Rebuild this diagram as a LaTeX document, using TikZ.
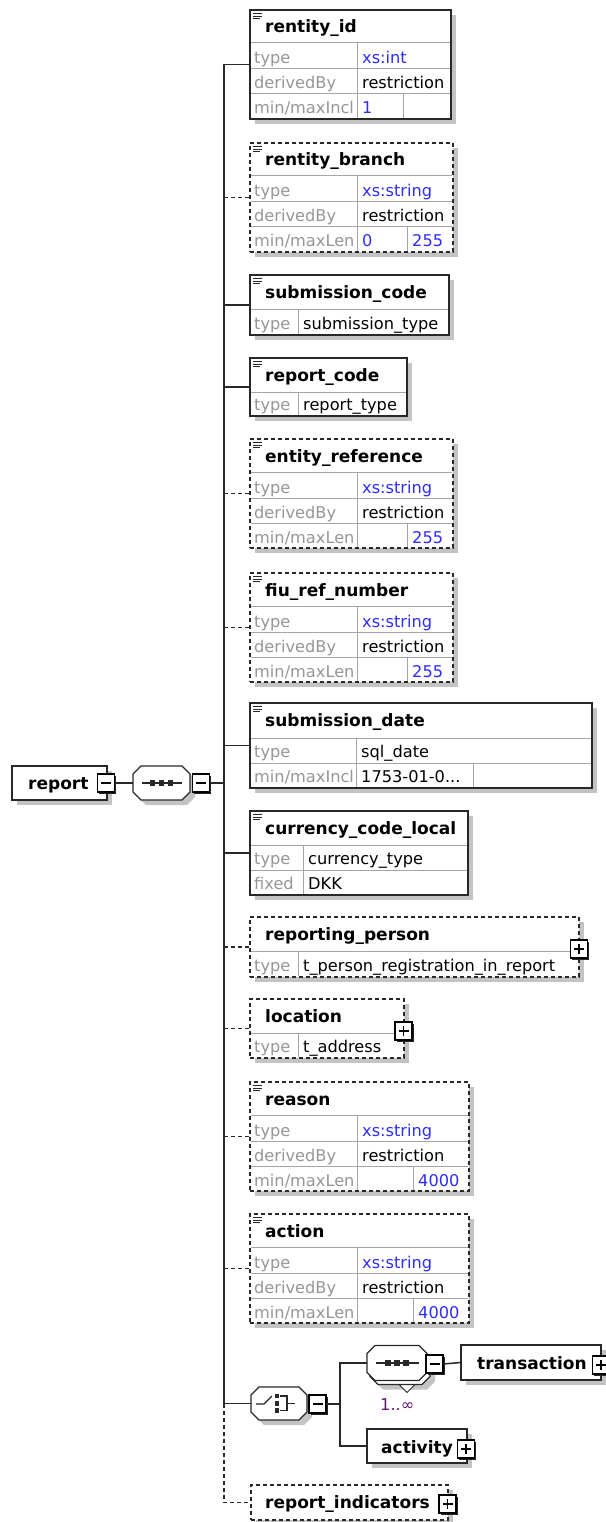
\documentclass[tikz,border=0pt]{standalone}
\usepackage{fontspec}
\setmainfont{DejaVu Sans}
\usepackage{tikz}
\usetikzlibrary{positioning}

\definecolor{border}{RGB}{40,40,40}
\definecolor{shadowgrey}{RGB}{195,195,195}
\definecolor{rowline}{RGB}{165,165,165}
\definecolor{labelgrey}{RGB}{150,150,150}
\definecolor{xsblue}{RGB}{45,45,255}
\definecolor{occpurple}{RGB}{100,25,110}

\begin{document}
\begin{tikzpicture}
  [ x=1pt, y=-1pt,
    optional/.style={dash pattern=on 4pt off 3pt},
    shadowed/.style={preaction={fill=shadowgrey, transform canvas={shift={(5pt,-5pt)}}}},
    plain/.style={},
    conn/.style={draw=border, line width=1.5pt},
    rowsep/.style={draw=rowline, line width=1pt},
    elembox/.style={draw=border, fill=white, line width=1.5pt, anchor=north west,
                    inner sep=0pt, outer sep=0pt, shadowed},
    grpbox/.style={elembox, anchor=center},
    grp/.style={minimum width=57pt, minimum height=34pt, inner sep=0pt, outer sep=0pt},
    pmbox/.style={draw=black, fill=white, line width=1.2pt, minimum width=17pt,
                  minimum height=18pt, inner sep=0pt, outer sep=0pt,
                  preaction={fill=black!85, transform canvas={shift={(1.5pt,-1.5pt)}}}},
    sign/.style={draw=black, line width=1.1pt},
    docicon/.style={draw=border, line width=0.9pt},
    ename/.style={font=\bfseries\fontsize{17}{20}\selectfont, inner sep=0pt, anchor=base west},
    lab/.style={font=\fontsize{16.2}{19}\selectfont, text=labelgrey, inner sep=0pt, anchor=base west},
    val/.style={font=\fontsize{16.2}{19}\selectfont, inner sep=0pt, anchor=base west},
    xsval/.style={val, text=xsblue}
  ]
  \useasboundingbox (0,0) rectangle (605,1522);

  % root element and its sequence
  \node[grpbox, minimum width=95, minimum height=34] (report) at (59.5,783) {};
  \node[ename] (report-t) at (28,789) {report};
  \node[grp]                                      (seqA)  at (161.5,783)  {};
  \node[grp, minimum width=56, minimum height=33] (choice) at (279,1403.5) {};
  \node[grp, minimum width=60, minimum height=35] (seqBb) at (400,1367)   {};
  \node[grp, minimum width=60, minimum height=35] (seqB)  at (397,1363)   {};

  % octagons
  \foreach \o/\s in {seqA/shadowed, choice/shadowed, seqBb/shadowed, seqB/plain}
    \path[draw=border, fill=white, line width=1.3pt, \s]
      ([xshift=8pt]\o.north west) -- ([xshift=-8pt]\o.north east)
      -- ([yshift=-8pt]\o.north east) -- ([yshift=8pt]\o.south east)
      -- ([xshift=-8pt]\o.south east) -- ([xshift=8pt]\o.south west)
      -- ([yshift=8pt]\o.south west) -- ([yshift=-8pt]\o.north west) -- cycle;
  \draw[draw=border, fill=white, line width=1pt]
    ([xshift=-1pt]seqBb.south) -- ++(16,0) -- ++(-8,8) -- cycle;

  % sequence and choice symbols
  \foreach \o in {seqA,seqB} {
    \draw[conn, line width=1.3pt] ([xshift=9pt]\o.west) -- ([xshift=-8pt]\o.east);
    \foreach \dx in {-9,0,9}
      \fill[border] ([xshift=\dx]\o.center) +(-2.6,-2.6) rectangle +(2.6,2.6);
  }
  \begin{scope}[shift={(choice.center)}]
    \draw[conn, line width=1.2pt] (-23,0.5) -- (-15,0.5) -- (-7,-7.5);
    \foreach \dy in {-7.5,0,7}
      \fill[border] (-2,\dy) +(-2.4,-2.4) rectangle +(2.4,2.4);
    \draw[conn, line width=1.2pt] (1,-7.5) -- (8,-7.5) -- (8,7) -- (1,7) (8,0) -- (16,0);
  \end{scope}

  \node[pmbox] (rMin)  at (106,783)    {};
  \node[pmbox] (sMinA) at (201,783)    {};
  \node[pmbox] (cMin)  at (317.5,1404) {};
  \node[pmbox] (sMinB) at (434.5,1364) {};
  \node[val, text=occpurple] (occ) at (380,1410) {1..∞};

  % elements with facets
  \foreach \n/\t/\r/\c/\ttl/\typ/\mlab/\mn/\mx/\sty in {
      rid/10/451/403/rentity\_id/xs:int/{min/maxIncl}/1/{}/solid,
      rbr/143/453/407/rentity\_branch/xs:string/{min/maxLen}/0/255/optional,
      eref/439/453/407/entity\_reference/xs:string/{min/maxLen}/{}/255/optional,
      fiu/573/453/407/fiu\_ref\_number/xs:string/{min/maxLen}/{}/255/optional,
      rsn/1082/469/413/reason/xs:string/{min/maxLen}/{}/4000/optional,
      actn/1214/469/413/action/xs:string/{min/maxLen}/{}/4000/optional} {
    \node[elembox, \sty, minimum width=\r-250, minimum height=109] (\n) at (250,\t) {};
    \draw[rowsep] (251,\t+33) -- (\r-1,\t+33) (251,\t+59) -- (\r-1,\t+59)
                  (251,\t+84) -- (\r-1,\t+84)
                  (357,\t+33) -- (357,\t+108) (\c,\t+84) -- (\c,\t+108);
    \node[ename] (\n-t)  at (265,\t+23)  {\ttl};
    \node[lab]   (\n-l1) at (254,\t+54)  {type};
    \node[xsval] (\n-v1) at (362,\t+54)  {\typ};
    \node[lab]   (\n-l2) at (254,\t+79)  {derivedBy};
    \node[val]   (\n-v2) at (362,\t+79)  {restriction};
    \node[lab]   (\n-l3) at (254,\t+104) {\mlab};
    \node[xsval] (\n-v3) at (362,\t+104) {\mn};
    \node[xsval] (\n-v4) at (\c+5,\t+104) {\mx};
  }

  % elements with a named type
  \foreach \n/\t/\r/\h/\ttl/\typ/\sty in {
      subc/275/449/60/submission\_code/submission\_type/solid,
      repc/358/407/58/report\_code/report\_type/solid,
      rperson/917/579/60/reporting\_person/t\_person\_registration\_in\_report/optional,
      loc/999/404/59/location/t\_address/optional} {
    \node[elembox, \sty, minimum width=\r-250, minimum height=\h] (\n) at (250,\t) {};
    \draw[rowsep] (251,\t+34) -- (\r-1,\t+34) (298,\t+34) -- (298,\t+\h-1);
    \node[ename] (\n-t)  at (265,\t+23)    {\ttl};
    \node[lab]   (\n-l1) at (254,\t+\h-6)  {type};
    \node[val]   (\n-v1) at (303,\t+\h-6)  {\typ};
  }

  % submission_date
  \node[elembox, minimum width=342, minimum height=85] (subd) at (250,703) {};
  \draw[rowsep] (251,738) -- (591,738) (251,763) -- (591,763)
                (356,738) -- (356,787) (473,763) -- (473,787);
  \node[ename] (subd-t)  at (265,726) {submission\_date};
  \node[lab]   (subd-l1) at (254,757) {type};
  \node[val]   (subd-v1) at (361,757) {sql\_date};
  \node[lab]   (subd-l2) at (254,782) {min/maxIncl};
  \node[val]   (subd-v2) at (361,782) {1753-01-0...};

  % currency_code_local
  \node[elembox, minimum width=218, minimum height=84] (ccl) at (250,811) {};
  \draw[rowsep] (251,845) -- (467,845) (251,870) -- (467,870) (303,845) -- (303,894);
  \node[ename] (ccl-t)  at (265,834) {currency\_code\_local};
  \node[lab]   (ccl-l1) at (254,864) {type};
  \node[val]   (ccl-v1) at (308,864) {currency\_type};
  \node[lab]   (ccl-l2) at (254,889) {fixed};
  \node[val]   (ccl-v2) at (308,889) {DKK};

  \foreach \n in {rid,rbr,subc,repc,eref,fiu,subd,ccl,rsn,actn}
    \draw[docicon] ([shift={(3pt,-3.5pt)}]\n.north west) -- ++(9,0) ++(-9,2.5) -- ++(9,0)
                   ++(-9,2.5) -- ++(7,0);

  % complex elements
  \node[grpbox, minimum width=140, minimum height=35] (trans) at (531,1362.5) {};
  \node[ename] (trans-t) at (477,1369) {transaction};
  \node[grpbox, minimum width=100, minimum height=34] (actv) at (417,1446) {};
  \node[ename] (actv-t) at (381,1453) {activity};
  \node[grpbox, optional, minimum width=197, minimum height=35] (rind) at (349.5,1502.5) {};
  \node[ename] (rind-t) at (265,1508) {report\_indicators};

  \node[pmbox] (rpPlus)  at (579,949)    {};
  \node[pmbox] (locPlus) at (403.5,1031) {};
  \node[pmbox] (trPlus)  at (601,1365)   {};
  \node[pmbox] (acPlus)  at (466,1449)   {};
  \node[pmbox] (riPlus)  at (447.5,1504) {};

  \foreach \m in {rMin,sMinA,cMin,sMinB,rpPlus,locPlus,trPlus,acPlus,riPlus}
    \draw[sign] ([xshift=-5pt]\m.center) -- ([xshift=5pt]\m.center);
  \foreach \m in {rpPlus,locPlus,trPlus,acPlus,riPlus}
    \draw[sign] ([yshift=-5pt]\m.center) -- ([yshift=5pt]\m.center);

  % connectors
  \coordinate (bus)  at (224,0);
  \coordinate (fork) at (340,1404);
  \foreach \n in {rid,subc,repc,subd,ccl}
    \draw[conn] (bus |- \n.west) -- (\n.west);
  \foreach \n in {rbr,eref,fiu,rperson,loc,rsn,actn}
    \draw[conn, optional] (bus |- \n.west) -- (\n.west);
  \draw[conn] (bus |- rid.west) -- (bus |- choice.west) -- (choice.west);
  \draw[conn, optional] (bus |- choice.west) -- (bus |- rind.west) -- (rind.west);
  \draw[conn] (rMin.east) -- (seqA.west);
  \draw[conn] (sMinA.east) -- (bus |- sMinA.east);
  \draw[conn] (cMin.east) -- (fork);
  \draw[conn] (seqB.west) -| (fork) |- (actv.west);
  \draw[conn] (sMinB.east) -- (trans.west);
\end{tikzpicture}
\end{document}
